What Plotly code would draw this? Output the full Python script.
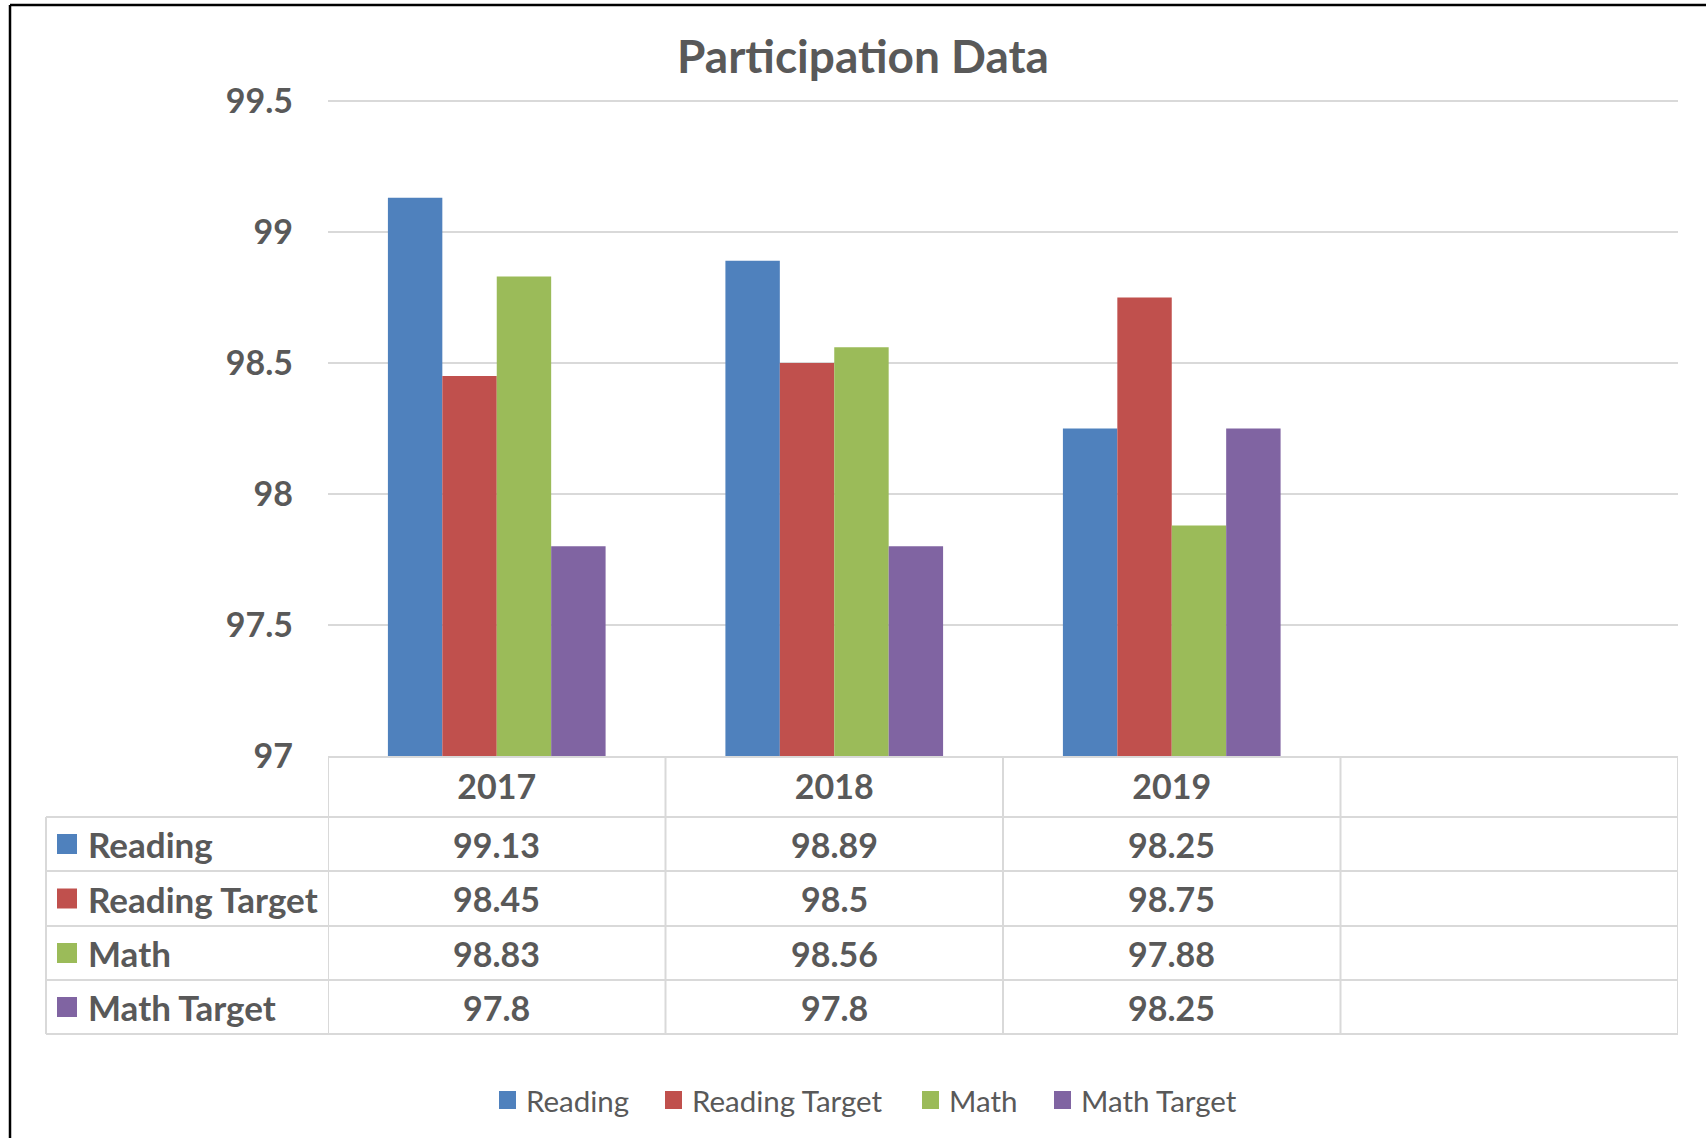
import plotly.graph_objects as go

# ---- data ----
years = ["2017", "2018", "2019"]
series_names = ["Reading", "Reading Target", "Math", "Math Target"]
reading = [99.13, 98.89, 98.25]
reading_target = [98.45, 98.5, 98.75]
math = [98.83, 98.56, 97.88]
math_target = [97.8, 97.8, 98.25]
colors = ["#4F81BD", "#C0504D", "#9BBB59", "#8064A2"]
y_ticks = [97, 97.5, 98, 98.5, 99, 99.5]
y_range = [97, 99.53]

series_values = [reading, reading_target, math, math_target]

# ---- geometry (pixels) ----
W, H = 1706, 1138
L, R, T, B = 328, 1678, 93, 756
TXT = "#595959"
GRID = "#d9d9d9"
FONT = "Lato"


def px(xp):
    return (xp - L) / (R - L)


def py(yp):
    return (B - yp) / (B - T)


fig = go.Figure()
for name, vals, col in zip(series_names, series_values, colors):
    fig.add_trace(go.Bar(x=years, y=vals, name=name, showlegend=False,
                         marker=dict(color=col, line=dict(width=0))))

shapes = []
annotations = []

# table grid
row_edges = [757, 817, 871, 926, 980, 1034]
label_left = 46
for i, yy in enumerate(row_edges):
    x0 = L if i == 0 else label_left
    shapes.append(dict(type="line", xref="paper", yref="paper", x0=px(x0), x1=px(R),
                       y0=py(yy), y1=py(yy), line=dict(color=GRID, width=2)))
shapes.append(dict(type="line", xref="paper", yref="paper", x0=px(label_left), x1=px(label_left),
                   y0=py(row_edges[1]), y1=py(row_edges[-1]), line=dict(color=GRID, width=2)))
for xc in [-0.5, 0.5, 1.5, 2.5, 3.5]:
    shapes.append(dict(type="line", xref="x", yref="paper", x0=xc, x1=xc,
                       y0=py(row_edges[0]), y1=py(row_edges[-1]), line=dict(color=GRID, width=2)))

# row labels and values
for r, (name, vals, col) in enumerate(zip(series_names, series_values, colors)):
    yc = (row_edges[r + 1] + row_edges[r + 2]) / 2
    shapes.append(dict(type="rect", xref="paper", yref="paper", x0=px(57), x1=px(77),
                       y0=py(yc - 10), y1=py(yc + 10), fillcolor=col, line=dict(width=0)))
    annotations.append(dict(text=name, xref="paper", yref="paper", x=px(86), y=py(yc),
                            xanchor="left", yanchor="middle", showarrow=False,
                            font=dict(family=FONT, size=35, color=TXT, weight="bold")))
    for i, v in enumerate(vals):
        annotations.append(dict(text=f"{v:g}", xref="x", yref="paper", x=i, y=py(yc),
                                xanchor="center", yanchor="middle", showarrow=False,
                                font=dict(family=FONT, size=34, color=TXT, weight="bold")))

# bottom legend (drawn)
legend_x = [499, 665, 922, 1054]
legend_y = 1100
for name, col, lx in zip(series_names, colors, legend_x):
    shapes.append(dict(type="rect", xref="paper", yref="paper", x0=px(lx), x1=px(lx + 17),
                       y0=py(legend_y - 9), y1=py(legend_y + 9), fillcolor=col, line=dict(width=0)))
    annotations.append(dict(text=name, xref="paper", yref="paper", x=px(lx + 25), y=py(legend_y),
                            xanchor="left", yanchor="middle", showarrow=False,
                            font=dict(family=FONT, size=29.5, color=TXT)))

# outer frame (left and top)
shapes.append(dict(type="line", xref="paper", yref="paper", x0=px(10), x1=px(10),
                   y0=py(5), y1=py(H + 5), line=dict(color="black", width=2.5)))
shapes.append(dict(type="line", xref="paper", yref="paper", x0=px(10), x1=px(W + 5),
                   y0=py(5), y1=py(5), line=dict(color="black", width=2.5)))

fig.update_layout(
    width=W, height=H,
    margin=dict(l=L, r=W - R, t=T, b=H - B),
    paper_bgcolor="white", plot_bgcolor="white",
    barmode="group", bargap=0.355, bargroupgap=0,
    showlegend=False,
    title=dict(text="Participation Data", x=863 / W, xanchor="center", y=1 - 57 / H,
               yanchor="middle", yref="container",
               font=dict(family=FONT, size=46, color=TXT, weight="bold")),
    xaxis=dict(type="category", range=[-0.5, 3.5], showgrid=False, showline=True,
               linecolor=GRID, linewidth=2, ticks="", ticklabelstandoff=0,
               tickfont=dict(family=FONT, size=34, color=TXT, weight="bold")),
    yaxis=dict(range=y_range, tickvals=y_ticks, showgrid=True, gridcolor=GRID, gridwidth=1.5,
               zeroline=False, showline=False, ticks="", ticklabelstandoff=34,
               tickfont=dict(family=FONT, size=34, color=TXT, weight="bold")),
    shapes=shapes, annotations=annotations,
)

fig.write_html("out.html", config={"displayModeBar": False},
               post_script="document.body.style.margin='0';")
